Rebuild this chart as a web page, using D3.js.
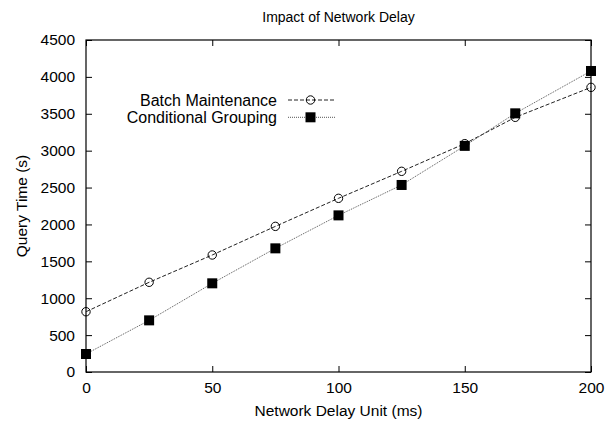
<!DOCTYPE html>
<html><head><meta charset="utf-8">
<script src="https://cdn.jsdelivr.net/npm/d3@7"></script>
<style>body{margin:0;background:#fff}</style>
</head><body>
<svg id="c" width="605" height="428"></svg>
<script>
const delays = [0, 25, 50, 75, 100, 125, 150, 170, 200];
const batchMaintenance = [817, 1216, 1586, 1974, 2354, 2720, 3095, 3452, 3858];
const conditionalGrouping = [244, 700, 1202, 1676, 2123, 2535, 3065, 3506, 4080];
const xTicks = [0, 50, 100, 150, 200];
const yTicks = [0, 500, 1000, 1500, 2000, 2500, 3000, 3500, 4000, 4500];
const seriesNames = ["Batch Maintenance", "Conditional Grouping"];

const svg = d3.select("#c");
const L = 86, R = 591, T = 40, B = 372;
const font = "Liberation Sans, Arial, Helvetica, sans-serif";
const x = d3.scaleLinear().domain([0, 200]).range([L, R]);
const y = d3.scaleLinear().domain([0, 4500]).range([B, T]);

// frame
svg.append("rect").attr("x", L).attr("y", T).attr("width", R - L).attr("height", B - T)
  .attr("fill", "none").attr("stroke", "#000").attr("stroke-width", 1.2);

// axes with inward ticks
const tl = 6;
const gB = svg.append("g").attr("transform", `translate(0,${B})`)
  .call(d3.axisBottom(x).tickValues(xTicks).tickSize(-tl).tickPadding(10).tickFormat(d3.format("d")));
const gT = svg.append("g").attr("transform", `translate(0,${T})`)
  .call(d3.axisTop(x).tickValues(xTicks).tickSize(-tl).tickFormat(""));
const gL = svg.append("g").attr("transform", `translate(${L},0)`)
  .call(d3.axisLeft(y).tickValues(yTicks).tickSize(-tl).tickPadding(11).tickFormat(d3.format("d")));
const gR = svg.append("g").attr("transform", `translate(${R},0)`)
  .call(d3.axisRight(y).tickValues(yTicks).tickSize(-tl).tickFormat(""));
[gB, gT, gL, gR].forEach(g => {
  g.select(".domain").remove();
  g.selectAll(".tick line").attr("stroke", "#000").attr("stroke-width", 1);
  g.selectAll("text").attr("font-family", font).attr("font-size", 15.5).attr("fill", "#000");
});

// title & axis labels
svg.append("text").attr("x", (L + R) / 2).attr("y", 22).attr("text-anchor", "middle")
  .attr("font-family", font).attr("font-size", 14).text("Impact of Network Delay");
svg.append("text").attr("x", (L + R) / 2).attr("y", 416).attr("text-anchor", "middle")
  .attr("font-family", font).attr("font-size", 15.5).text("Network Delay Unit (ms)");
svg.append("text").attr("transform", `translate(27,${(T + B) / 2}) rotate(-90)`).attr("text-anchor", "middle")
  .attr("font-family", font).attr("font-size", 15.5).text("Query Time (s)");

const series = [
  {name: seriesNames[0], vals: batchMaintenance, dash: "4,2", color: "#222", sw: 1, marker: "circle"},
  {name: seriesNames[1], vals: conditionalGrouping, dash: "1,1", color: "#555", sw: 1, marker: "square"}
];
const line = d3.line().x(d => x(d[0])).y(d => y(d[1]));

function drawMarker(g, type, cx, cy) {
  if (type === "circle") {
    g.append("circle").attr("cx", cx).attr("cy", cy).attr("r", 4.2)
      .attr("fill", "none").attr("stroke", "#000").attr("stroke-width", 1);
  } else {
    g.append("rect").attr("x", cx - 5).attr("y", cy - 5).attr("width", 10).attr("height", 10).attr("fill", "#000");
  }
}

series.forEach((s, i) => {
  const pts = delays.map((d, j) => [d, s.vals[j]]);
  svg.append("path").attr("d", line(pts)).attr("fill", "none").attr("stroke", s.color)
    .attr("stroke-width", s.sw).attr("stroke-dasharray", s.dash);
  const g = svg.append("g");
  pts.forEach(p => drawMarker(g, s.marker, x(p[0]), y(p[1])));

  // legend
  const ly = 100 + i * 17.3;
  svg.append("text").attr("x", 277).attr("y", ly + 5.5).attr("text-anchor", "end")
    .attr("font-family", font).attr("font-size", 16).text(s.name);
  svg.append("line").attr("x1", 288).attr("x2", 336).attr("y1", ly).attr("y2", ly)
    .attr("stroke", s.color).attr("stroke-width", s.sw).attr("stroke-dasharray", s.dash);
  drawMarker(svg, s.marker, 310.5, ly);
});
</script>
</body></html>
